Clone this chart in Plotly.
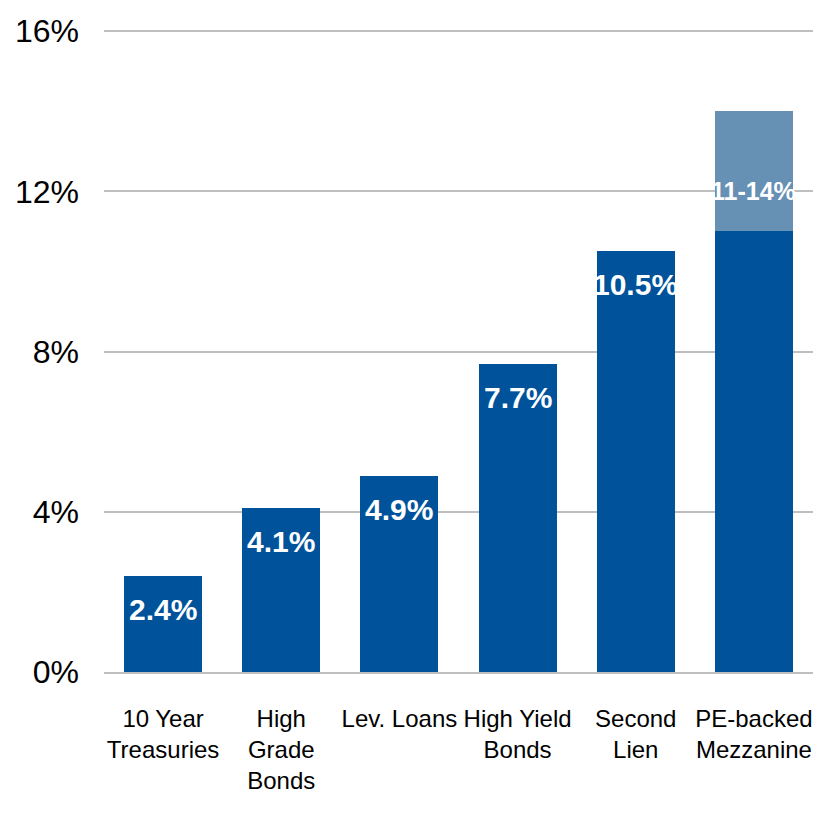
import plotly.graph_objects as go

categories = ["10 Year<br>Treasuries", "High<br>Grade<br>Bonds", "Lev. Loans", "High Yield<br>Bonds", "Second<br>Lien", "PE-backed<br>Mezzanine"]
base_values = [2.4, 4.1, 4.9, 7.7, 10.5, 11.0]
range_extra = [0, 0, 0, 0, 0, 3.0]
labels = ["2.4%", "4.1%", "4.9%", "7.7%", "10.5%", "11-14%"]
tick_vals = [0, 4, 8, 12, 16]
tick_text = ["0%", "4%", "8%", "12%", "16%"]

DARK = "#00539B"
LIGHT = "#6690B4"
FONT = "Liberation Sans, Arial, sans-serif"

fig = go.Figure()
fig.add_bar(x=categories, y=base_values, marker_color=DARK, marker_line_width=0, hoverinfo="skip")
fig.add_bar(x=categories, y=range_extra, marker_color=LIGHT, marker_line_width=0, hoverinfo="skip")

annotations = []
for c, b, e, t in zip(categories, base_values, range_extra, labels):
    top = b + e
    if e > 0:
        annotations.append(dict(x=c, y=b + e / 3, text=f"<b>{t}</b>", showarrow=False,
                                yanchor="middle", font=dict(family=FONT, size=25, color="white")))
    else:
        annotations.append(dict(x=c, y=top, text=f"<b>{t}</b>", showarrow=False,
                                yanchor="top", yshift=-15, font=dict(family=FONT, size=30, color="white")))

fig.update_layout(
    width=805, height=805,
    barmode="stack", bargap=0.34, showlegend=False,
    plot_bgcolor="white", paper_bgcolor="white",
    margin=dict(l=96, r=0, t=22, b=141),
    font=dict(family=FONT, color="black"),
    annotations=annotations,
    xaxis=dict(showgrid=False, showline=True, linecolor="#BFBFBF", linewidth=2,
               tickfont=dict(size=24, family=FONT), ticks="", tickangle=0,
               ticklabelstandoff=24, automargin=False),
    yaxis=dict(range=[0, 16.03], tickvals=tick_vals, ticktext=tick_text,
               showgrid=True, gridcolor="#BFBFBF", gridwidth=1.5, zeroline=False,
               showline=False, tickfont=dict(size=32, family=FONT), ticks="",
               ticklabelstandoff=24, automargin=False),
)

fig.write_html("out.html")
